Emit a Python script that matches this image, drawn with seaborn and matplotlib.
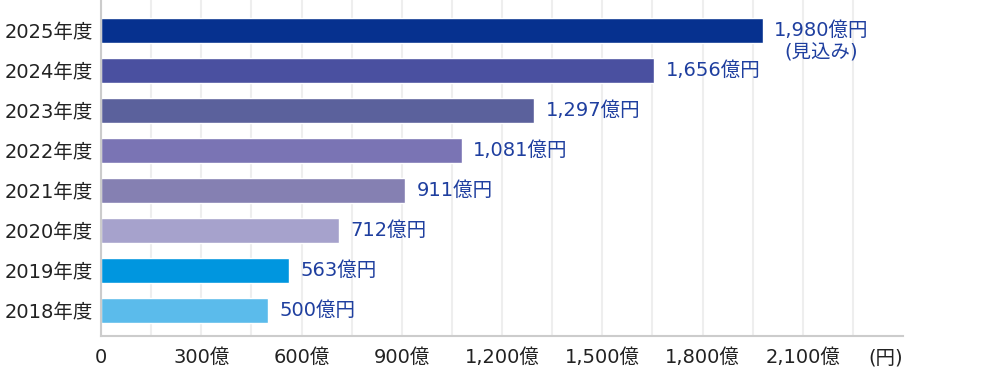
import matplotlib
matplotlib.use('Agg')
import matplotlib.pyplot as plt
import pandas as pd
import seaborn as sns

# data (top to bottom)
years = ['2025年度', '2024年度', '2023年度', '2022年度',
         '2021年度', '2020年度', '2019年度', '2018年度']
sales = [1980, 1656, 1297, 1081, 911, 712, 563, 500]
value_labels = ['1,980億円\n(見込み)', '1,656億円', '1,297億円', '1,081億円',
                '911億円', '712億円', '563億円', '500億円']
bar_colors = ['#06318f', '#4a50a0', '#5b619c', '#7a74b4',
              '#8580b2', '#a6a2cc', '#0096df', '#5bbbeb']
tick_values = [0, 300, 600, 900, 1200, 1500, 1800, 2100]
tick_labels = ['0', '300億', '600億', '900億', '1,200億', '1,500億', '1,800億', '2,100億']

df = pd.DataFrame({'year': years, 'sales': sales})

sns.set_style('white')
plt.rcParams['font.family'] = ['DejaVu Sans', 'Noto Sans CJK JP']
FS = 14

fig = plt.figure(figsize=(10, 3.71), dpi=100)
ax = fig.add_axes([0.101, 0.095, 0.802, 0.905])

sns.barplot(data=df, x='sales', y='year', hue='year', palette=bar_colors,
            order=years, hue_order=years, orient='h', width=0.62,
            legend=False, saturation=1, ax=ax)

# grid every 150, labels every 300
grid_pos = list(range(0, 2251, 150))
ax.set_xticks(grid_pos)
ax.set_xticklabels([tick_labels[tick_values.index(g)] if g in tick_values else ''
                    for g in grid_pos])
ax.grid(True, axis='x', color='#eeeeee', linewidth=1.5)
ax.set_axisbelow(True)
ax.set_xlim(0, 2400)
ax.set_ylim(7.63, -0.76)

ax.tick_params(axis='x', length=0, pad=9, labelsize=FS, labelcolor='#222222')
ax.tick_params(axis='y', length=0, pad=6, labelsize=FS, labelcolor='#222222')
ax.set_xlabel('')
ax.set_ylabel('')

for side in ['top', 'right']:
    ax.spines[side].set_visible(False)
for side in ['left', 'bottom']:
    ax.spines[side].set_color('#cccccc')
    ax.spines[side].set_linewidth(1.5)

# value labels
for i, (v, lab) in enumerate(zip(sales, value_labels)):
    if '\n' in lab:
        ax.annotate(lab, xy=(v, i), xytext=(8, 6.5), textcoords='offset points',
                    ha='left', va='top', multialignment='center',
                    fontsize=FS, color='#1f3f9f', linespacing=1.2)
    else:
        ax.annotate(lab, xy=(v, i), xytext=(8, 0), textcoords='offset points',
                    ha='left', va='center', fontsize=FS, color='#1f3f9f')

# unit label at axis end
ax.annotate('(円)', xy=(1, 0), xycoords='axes fraction', xytext=(0, -9),
            textcoords='offset points', ha='right', va='top',
            fontsize=FS, color='#222222')

fig.savefig('out.png', dpi=100)
